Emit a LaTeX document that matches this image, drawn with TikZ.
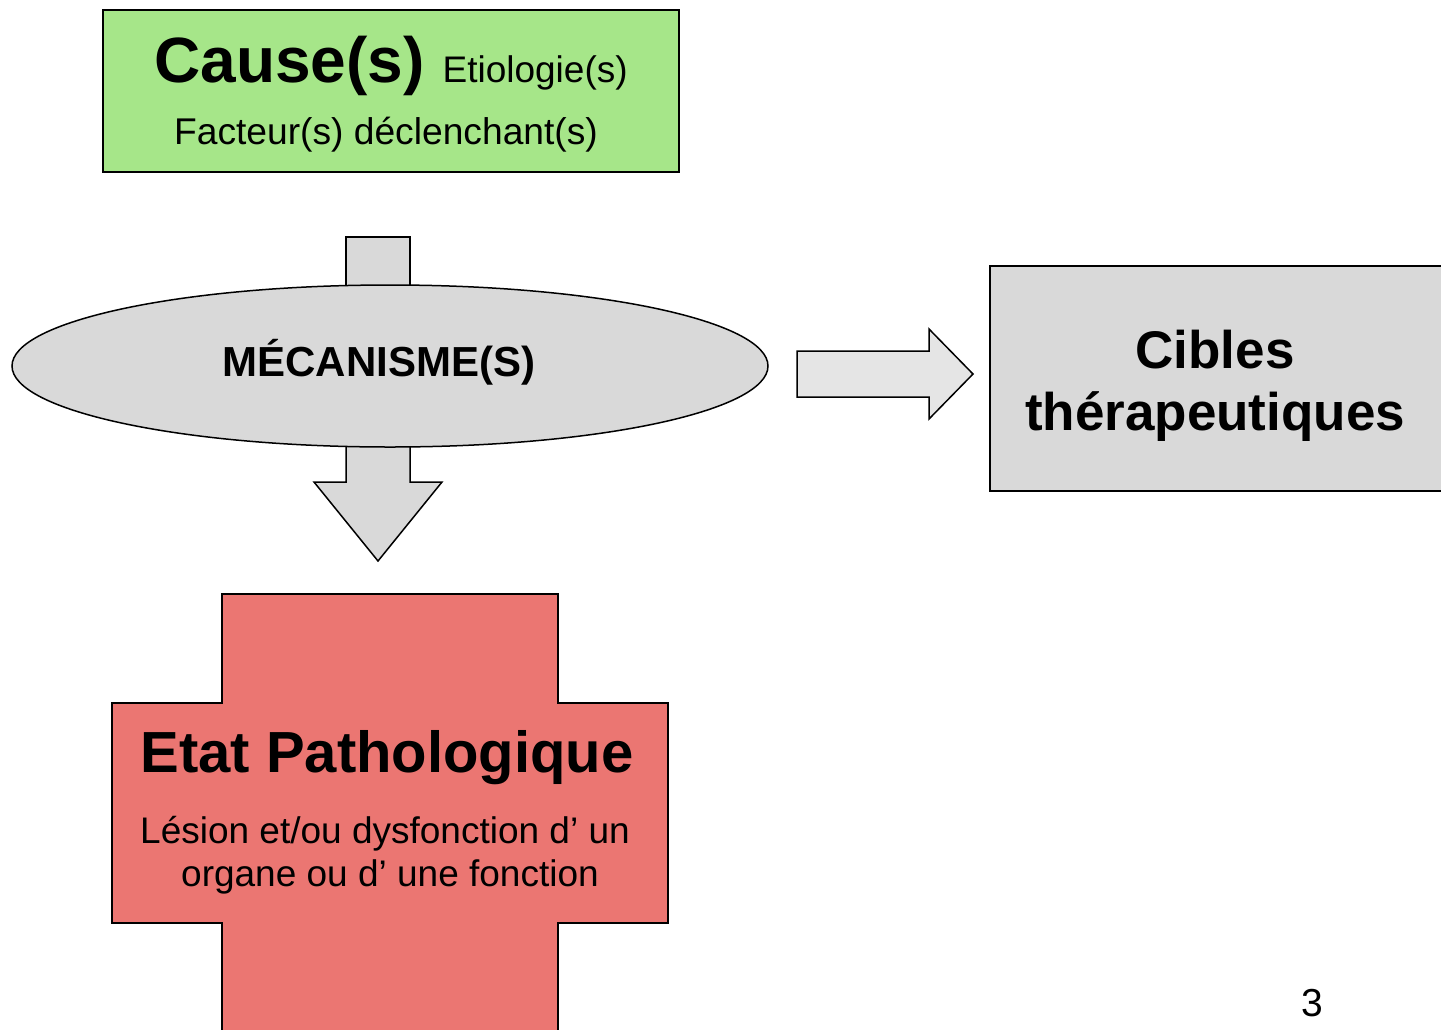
\documentclass[tikz,border=0pt]{standalone}
\usepackage{fontspec}
\setmainfont{Liberation Sans}
\usetikzlibrary{shapes.geometric}
\definecolor{cgreen}{RGB}{166,230,137}
\definecolor{cgray}{RGB}{217,217,217}
\definecolor{clight}{RGB}{229,229,229}
\definecolor{cred}{RGB}{235,118,114}
\newcommand{\fs}[1]{\fontsize{#1}{#1}\selectfont}
\begin{document}
\begin{tikzpicture}[x=1pt,y=-1pt,
  outl/.style={draw=black,line width=1.5pt,line join=miter},
  txt/.style={inner sep=0pt,outer sep=0pt,anchor=base}]
\useasboundingbox (0,0) rectangle (1441,1029);
\clip (0,0) rectangle (1441,1029);
% top box
\node[outl,fill=cgreen,minimum width=576pt,minimum height=162pt,inner sep=0pt,anchor=north west] (cause) at (102,9) {};
\node[txt] (causetxt) at (391,82) {{\fs{64}\bfseries Cause(s)}\hspace{18pt}{\fs{37}Etiologie(s)}};
\node[txt] (factxt) at (386,144) {\fs{37.2}Facteur(s) déclenchant(s)};
% arrows behind the ellipse
\path[fill=cgray] (346,237) rectangle (410,300);
\draw[outl] (346,300) -- (346,237) -- (410,237) -- (410,300);
\draw[outl,fill=cgray] (346,430) -- (346,482) -- (314,482) -- (378,561) -- (442,482) -- (410,482) -- (410,430);
% ellipse
\node[outl,fill=cgray,ellipse,minimum width=756pt,minimum height=162pt,inner sep=0pt] (mech) at (390,366) {};
\node[txt] (mechtxt) at (379,376) {\fs{42}\bfseries MÉCANISME(S)};
% right arrow
\draw[outl,fill=clight] (797,351) -- (929,351) -- (929,329) -- (973,374) -- (929,419) -- (929,397) -- (797,397) -- cycle;
% target box
\node[outl,fill=cgray,minimum width=452pt,minimum height=225pt,inner sep=0pt,anchor=north west] (cible) at (989,265) {};
\node[txt] (cib1) at (1215,368) {\fs{53}\bfseries Cibles};
\node[txt] (cib2) at (1215,430) {\fs{53}\bfseries thérapeutiques};
% cross
\draw[outl,fill=cred] (222,1045) -- (222,923) -- (112,923) -- (112,703) -- (222,703) -- (222,594) -- (558,594) -- (558,703) -- (668,703) -- (668,923) -- (558,923) -- (558,1045);
\node[txt] (etat) at (387,772) {\fs{58}\bfseries Etat Pathologique};
\node[txt] (les1) at (385,843) {\fs{37}Lésion et/ou dysfonction d’ un};
\node[txt] (les2) at (390,886) {\fs{37}organe ou d’ une fonction};
% page number
\node[txt] (pnum) at (1312,1016) {\fs{39}3};
\end{tikzpicture}
\end{document}
